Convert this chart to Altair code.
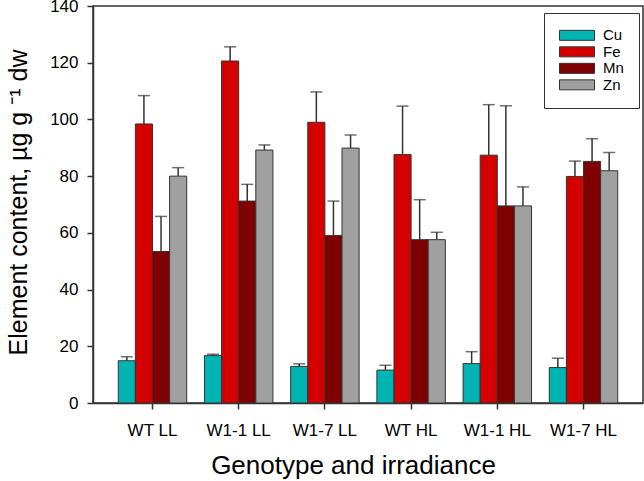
import altair as alt
import pandas as pd

groups = ["WT LL", "W1-1 LL", "W1-7 LL", "WT HL", "W1-1 HL", "W1-7 HL"]
elements = ["Cu", "Fe", "Mn", "Zn"]
colors = ["#00B4B4", "#D40000", "#7F0000", "#A0A0A0"]

cu_mean = [14.9, 16.7, 12.9, 11.6, 13.9, 12.5]
cu_err = [1.4, 0.5, 0.9, 1.7, 4.2, 3.3]
fe_mean = [98.4, 120.6, 99.0, 87.6, 87.4, 79.9]
fe_err = [10.0, 5.0, 10.7, 17.1, 17.8, 5.4]
mn_mean = [53.4, 71.2, 59.1, 57.6, 69.5, 85.2]
mn_err = [12.4, 5.9, 12.1, 14.1, 35.3, 8.0]
zn_mean = [80.0, 89.2, 89.9, 57.6, 69.5, 81.9]
zn_err = [3.0, 1.8, 4.6, 2.6, 6.7, 6.4]

y_ticks = [0, 20, 40, 60, 80, 100, 120, 140]

means = {"Cu": cu_mean, "Fe": fe_mean, "Mn": mn_mean, "Zn": zn_mean}
errs = {"Cu": cu_err, "Fe": fe_err, "Mn": mn_err, "Zn": zn_err}
rows = []
for el in elements:
    for g, m, e in zip(groups, means[el], errs[el]):
        rows.append({"group": g, "element": el, "mean": m, "upper": m + e})
df = pd.DataFrame(rows)

FONT = "Liberation Sans"

base = alt.Chart(df).encode(
    x=alt.X(
        "group:N",
        sort=groups,
        scale=alt.Scale(paddingInner=0.206, paddingOuter=0.293),
        axis=alt.Axis(
            title="Genotype and irradiance",
            labelAngle=0,
            tickSize=6,
            labelFontSize=17,
            labelBaseline="alphabetic",
            labelPadding=26,
            titleFontSize=26,
            titleBaseline="alphabetic",
            titleX=260,
            titleY=70,
        ),
    ),
    xOffset=alt.XOffset("element:N", sort=elements,
                        scale=alt.Scale(paddingInner=0, paddingOuter=0)),
)

y_enc = alt.Y(
    "mean:Q",
    scale=alt.Scale(domain=[0, 140], nice=False),
    axis=alt.Axis(
        title="Element content, µg g ⁻¹  dw",
        values=y_ticks,
        tickSize=6,
        labelFontSize=17,
        labelPadding=9,
        titleFontSize=25,
        titleBaseline="alphabetic",
        titleX=-67,
        titleY=196,
    ),
)

bars = base.mark_bar(stroke="#333333", strokeWidth=1).encode(
    y=y_enc,
    color=alt.Color(
        "element:N",
        sort=elements,
        scale=alt.Scale(domain=elements, range=colors),
        legend=alt.Legend(
            title=None,
            orient="none",
            legendX=451,
            legendY=7,
            symbolType="M-1,-0.2857L1,-0.2857L1,0.2857L-1,0.2857Z",
            symbolSize=1225,
            symbolStrokeColor="#333333",
            symbolStrokeWidth=1,
            symbolOpacity=1,
            labelFontSize=15,
            labelOffset=8,
            clipHeight=14.7,
            rowPadding=0.5,
            padding=15,
            strokeColor="#333333",
            fillColor="white",
        ),
    ),
)

rules = base.mark_rule(color="#333333", strokeWidth=1.5).encode(
    y="mean:Q", y2="upper:Q"
)
caps = base.mark_tick(color="#333333", thickness=1.5, size=12, orient="horizontal").encode(
    y="upper:Q"
)

chart = (
    alt.layer(rules, caps, bars)
    .properties(
        width=550,
        height=397,
        autosize=alt.AutoSizeParams(type="none"),
        padding={"left": 93, "top": 6, "right": 1, "bottom": 78},
    )
    .configure_view(stroke="#333333", strokeWidth=1.5)
    .configure_axis(
        grid=False,
        domainColor="#333333",
        domainWidth=1.5,
        tickColor="#333333",
        tickWidth=1.5,
        labelColor="black",
        titleColor="black",
        labelFont=FONT,
        titleFont=FONT,
        titleFontWeight="normal",
    )
    .configure_legend(labelFont=FONT, labelColor="black")
)

chart.save("out.html", embed_options={"renderer": "svg", "actions": False})
